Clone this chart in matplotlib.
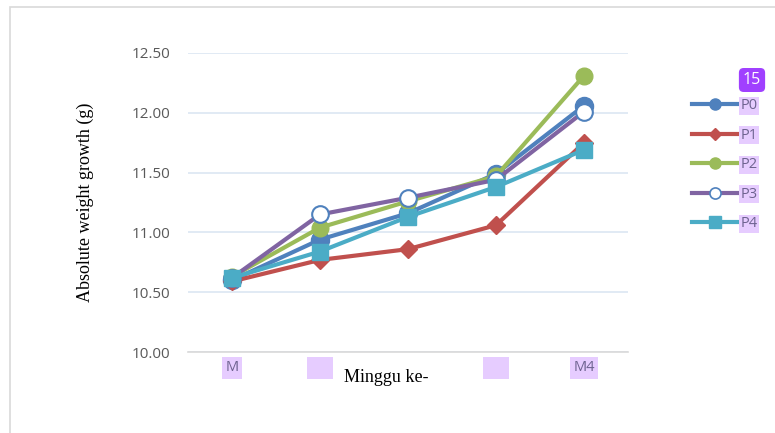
import matplotlib
matplotlib.use("Agg")
import matplotlib.pyplot as plt
from matplotlib.lines import Line2D
from matplotlib.patches import Rectangle

categories = ["M", "     ", "", "     ", "M4"]
series_names = ["P0", "P1", "P2", "P3", "P4"]
P0 = [10.60, 10.94, 11.16, 11.49, 12.06]
P1 = [10.59, 10.77, 10.86, 11.06, 11.75]
P2 = [10.63, 11.04, 11.26, 11.47, 12.31]
P3 = [10.62, 11.15, 11.29, 11.44, 12.01]
P4 = [10.62, 10.84, 11.13, 11.38, 11.69]
y_ticks = [10.00, 10.50, 11.00, 11.50, 12.00, 12.50]

colors = ["#4F81BD", "#C0504D", "#9BBB59", "#8064A2", "#4BACC6"]
styles = [
    dict(marker="o", ms=13, mfc="#4F81BD", mec="#4F81BD"),
    dict(marker="D", ms=9, mfc="#C0504D", mec="#C0504D"),
    dict(marker="o", ms=12, mfc="#9BBB59", mec="#9BBB59"),
    dict(marker="o", ms=12, mfc="white", mec="#4F81BD", mew=1.5),
    dict(marker="s", ms=12, mfc="#4BACC6", mec="#4BACC6"),
]

fig = plt.figure(figsize=(7.75, 4.33), dpi=100)
fig.patches.append(Rectangle((10/775, -0.1), 1.1, (433-7)/433 + 0.1, transform=fig.transFigure,
                             fill=False, edgecolor="#D9D9D9", linewidth=1.2))
ax = fig.add_axes([188/775, (433-352)/433, 440/775, 299/433])

x = list(range(len(categories)))
for name, vals, c, st in zip(series_names, [P0, P1, P2, P3, P4], colors, styles):
    ax.plot(x, vals, color=c, lw=3, label=name, zorder=3, **st)

ax.set_xlim(-0.5, 4.5)
ax.set_ylim(10.0, 12.5)
ax.set_yticks(y_ticks)
ax.set_yticklabels([f"{v:.2f}" for v in y_ticks], fontfamily="Open Sans", fontsize=11, color="#595959")
ax.yaxis.grid(True, color="#DCE6F2", lw=1.2)
ax.set_axisbelow(True)
for s in ["top", "right", "left"]:
    ax.spines[s].set_visible(False)
ax.spines["bottom"].set_color("#D9D9D9")
ax.spines["bottom"].set_linewidth(1.2)
ax.tick_params(axis="y", length=0, pad=13)
ax.tick_params(axis="x", length=0, pad=6)
ax.set_xticks(x)
ax.set_xticklabels(categories, fontfamily="Open Sans", fontsize=10.5, color="#6E6390")
for lbl in ax.get_xticklabels():
    if lbl.get_text() != "":
        lbl.set_bbox(dict(facecolor="#E6CCFF", edgecolor="none", pad=2.5))

ax.set_ylabel("Absolute weight growth (g)", fontfamily="Liberation Serif", fontsize=13, labelpad=27)
ax.text(386/775, (433-378)/433, "Minggu ke-", transform=fig.transFigure, fontfamily="Liberation Serif",
        fontsize=13, ha="center", va="center")

handles = []
for c, st in zip(colors, styles):
    s2 = dict(st)
    s2["ms"] = 8 if st["marker"] != "D" else 6
    if "mew" in s2:
        s2["mew"] = 1.2
    handles.append(Line2D([0], [0], color=c, lw=3, **s2))
leg = fig.legend(handles, series_names, loc="upper left", bbox_to_anchor=(679/775, 1 - 85/433),
                 frameon=False, handlelength=3.2, labelspacing=1.0, handletextpad=0.1,
                 prop=dict(family="Open Sans", size=10.5))
for t in leg.get_texts():
    t.set_color("#6E6390")
    t.set_bbox(dict(facecolor="#E6CCFF", edgecolor="none", pad=1))

fig.text(752/775, 1 - 80/433, "15", ha="center", va="center", color="white", fontfamily="Open Sans",
         fontsize=11.5, bbox=dict(boxstyle="round,pad=0.25,rounding_size=0.3", facecolor="#A040FF", edgecolor="none"))

fig.savefig("out.png", dpi=100)
